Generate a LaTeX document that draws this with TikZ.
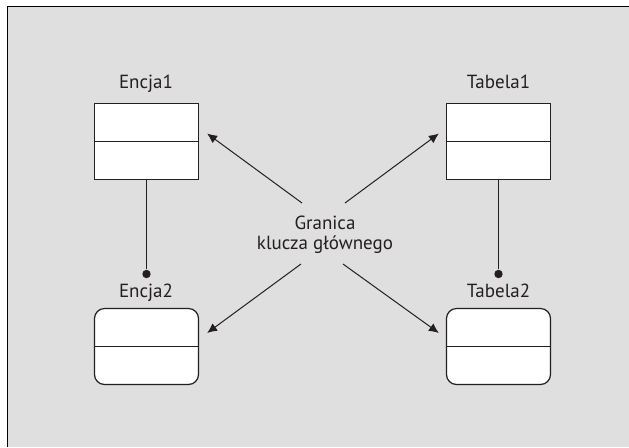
\documentclass[tikz,border=0pt]{standalone}
\usepackage{fontspec}
\setmainfont{PT Sans}
\usetikzlibrary{arrows.meta,calc,positioning}
\definecolor{bggrey}{HTML}{DFDFDF}
\definecolor{ink}{HTML}{231F20}

\begin{document}
\begin{tikzpicture}[
  x=0.5pt,y=-0.5pt,
  every node/.style={font=\fontsize{9.5}{10}\selectfont,text=ink},
  entitybox/.style={
    draw=ink,
    fill=white,
    line width=0.6pt,
    minimum width=52pt,
    minimum height=38pt,
    inner sep=0pt,
  },
  roundbox/.style={entitybox,rounded corners=5pt},
  dot/.style={circle,fill=ink,inner sep=0pt,minimum size=4.2pt},
  link/.style={draw=ink,line width=0.5pt},
  >={Latex[length=5pt,width=4.5pt]},
  ]
  \useasboundingbox (0,0) rectangle (629,447);
  \fill[bggrey] (7,6) rectangle (629,447);
  \draw[black,line width=0.7pt] (7.5,447) -- (7.5,6.5) -- (629,6.5);

  \node[entitybox](e1) at (146.5,141.5){};
  \node[roundbox](e2) at (146.5,346.5){};
  \node[entitybox](t1) at (498.5,141.5){};
  \node[roundbox](t2) at (498.5,346.5){};
  \foreach \n in {e1,e2,t1,t2}
    \draw[link,line width=0.6pt] (\n.west) -- (\n.east);

  \node[anchor=base](e1l) at (146,88){Encja1};
  \node[anchor=base](e2l) at (146,297){Encja2};
  \node[anchor=base](t1l) at (498.5,88){Tabela1};
  \node[anchor=base](t2l) at (498.5,297){Tabela2};

  \node[dot](d1) at (146.5,274){};
  \node[dot](d2) at (498.5,274){};
  \draw[link] (e1.south) -- (d1);
  \draw[link] (t1.south) -- (d2);

  \node[align=center,inner sep=0pt](granica) at (325,235){Granica\\klucza głównego};
  \draw[link,->] ($(granica)+(-23,-32)$) -- ($(e1.east)+(8,-8)$);
  \draw[link,->] ($(granica)+(20,-32)$) -- ($(t1.west)+(-7,-8)$);
  \draw[link,->] ($(granica)+(-24,29)$) -- ($(e2.east)+(8,-13.5)$);
  \draw[link,->] ($(granica)+(18,29)$) -- ($(t2.west)+(-7,-13.5)$);
\end{tikzpicture}
\end{document}
